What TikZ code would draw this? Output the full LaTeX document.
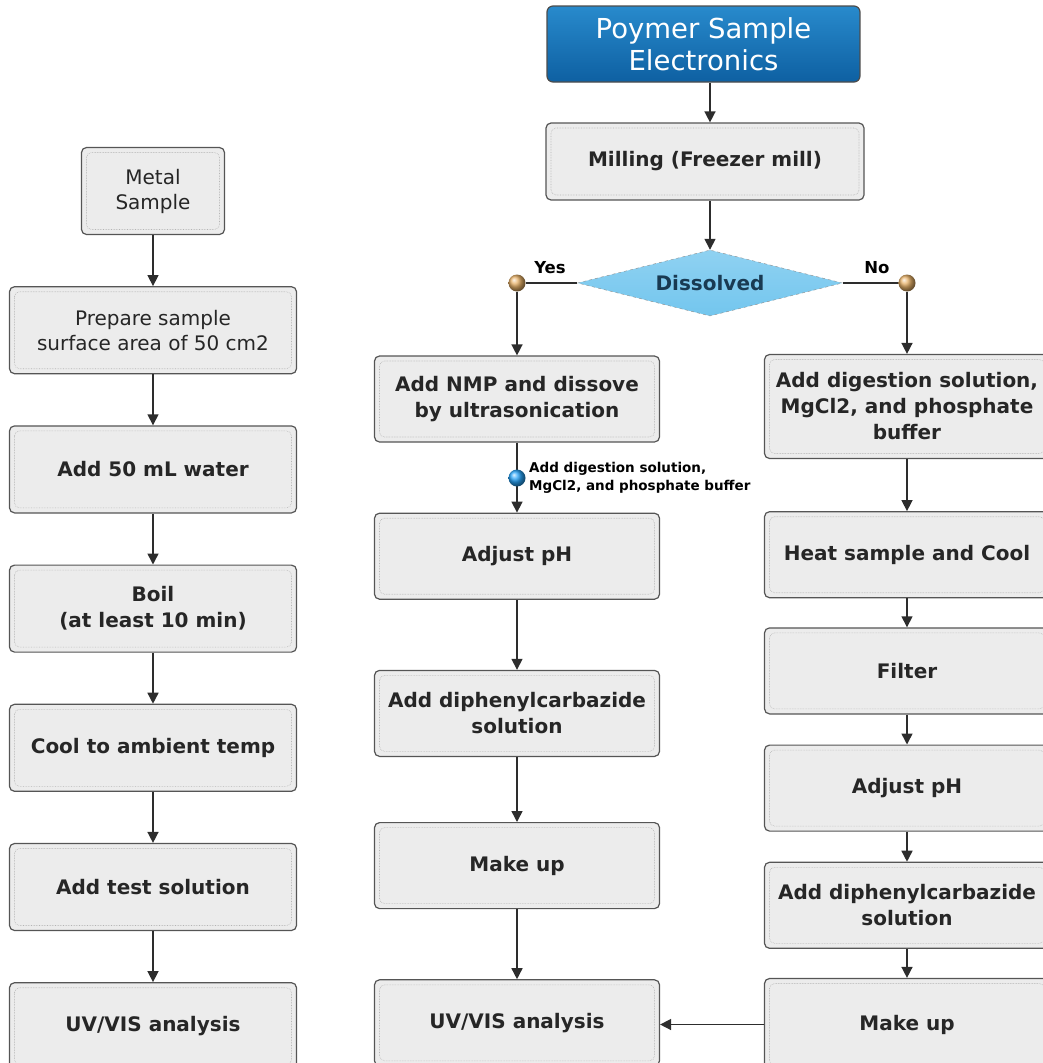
\documentclass[tikz,border=0pt]{standalone}
\usepackage{fontspec}
\setmainfont{DejaVu Sans}
\usepackage{tikz}
\usetikzlibrary{
	positioning,
	arrows.meta,
	shapes.geometric,
	shadings
}
\definecolor{boxfill}{RGB}{236,236,236}
\definecolor{boxline}{RGB}{85,85,85}
\definecolor{boxdots}{RGB}{180,180,180}
\definecolor{lineclr}{RGB}{45,45,45}
\definecolor{topblue}{RGB}{40,138,204}
\definecolor{lowblue}{RGB}{14,96,162}
\definecolor{dmdfill}{RGB}{115,198,238}
\definecolor{dmdtext}{RGB}{25,58,82}
\definecolor{knobtan}{RGB}{232,178,105}
\definecolor{knobblue}{RGB}{40,165,250}

\begin{document}
\begin{tikzpicture}[
				x=1pt, y=-1pt,
				block/.style={
					draw=boxline,
					line width=1.2pt,
					fill=boxfill,
					rounded corners=5pt,
					minimum width=285pt,
					minimum height=86pt,
					inner sep=0pt,
					align=center,
					text=black!85,
					font=\bfseries\fontsize{20}{26}\selectfont,
					path picture={
						\draw[boxdots, densely dotted, line width=0.6pt]
						([shift={(5pt,-5pt)}]path picture bounding box.north west) rectangle
						([shift={(-5pt,5pt)}]path picture bounding box.south east);
					}
				},
				plainblock/.style={
					block,
					font=\fontsize{20}{25}\selectfont
				},
				startblock/.style={
					draw=black!70,
					line width=1.2pt,
					top color=topblue,
					bottom color=lowblue,
					rounded corners=6pt,
					minimum width=313pt,
					minimum height=76pt,
					align=center,
					text=white,
					font=\fontsize{27.5}{32}\selectfont
				},
				decision/.style={
					diamond,
					aspect=4,
					draw=black!45,
					dashed,
					top color=dmdfill!80,
					bottom color=dmdfill,
					minimum width=265pt,
					minimum height=66pt,
					inner sep=0pt,
					text=dmdtext,
					font=\bfseries\fontsize{20}{24}\selectfont
				},
				knob/.style={
					circle,
					shading=ball,
					ball color=knobtan,
					minimum size=17pt,
					inner sep=0pt
				},
				arrow/.style={
					-{Triangle[length=11pt,width=11pt]},
					line width=1.5pt,
					draw=lineclr
				},
				link/.style={
					line width=1.5pt,
					draw=lineclr
				},
				lbl/.style={
					font=\bfseries\fontsize{16.5}{20}\selectfont
				},
				note/.style={
					align=left,
					font=\bfseries\fontsize{13.5}{18}\selectfont
				}
				]
				
				\useasboundingbox (0,0) rectangle (1043,1063);
				\clip (0,0) rectangle (1043,1063);
				
				% metal sample column
				\node[plainblock, minimum width=143pt, minimum height=87pt] (metal) at (153,191) {Metal\\Sample};
				\node[plainblock, minimum width=287pt, minimum height=87pt, below=51pt of metal] (prep) {Prepare sample\\surface area of 50 cm2};
				\node[block, minimum width=287pt, minimum height=87pt, below=51pt of prep] (water) {Add 50 mL water};
				\node[block, minimum width=287pt, minimum height=87pt, below=51pt of water] (boil) {Boil\\(at least 10 min)};
				\node[block, minimum width=287pt, minimum height=87pt, below=51pt of boil] (cool) {Cool to ambient temp};
				\node[block, minimum width=287pt, minimum height=87pt, below=51pt of cool] (test) {Add test solution};
				\node[block, minimum width=287pt, minimum height=87pt, below=51pt of test] (uvleft) {UV/VIS analysis};
				
				% polymer sample
				\node[startblock] (poly) at (703.5,44) {Poymer Sample\\Electronics};
				\node[block, minimum width=318pt, minimum height=77pt] (mill) at (705,161.5) {Milling (Freezer mill)};
				\node[decision] (dis) at (710,283) {Dissolved};
				\node[knob] (yesdot) at (517,283) {};
				\node[knob] (nodot) at (907,283) {};
				\node[lbl] (yeslbl) at (550,268) {Yes};
				\node[lbl] (nolbl) at (877,268) {No};
				
				% dissolved branch
				\node[block] (nmp) at (517,399) {Add NMP and dissove\\by ultrasonication};
				\node[block, below=70pt of nmp] (adjmid) {Adjust pH};
				\node[block, below=70pt of adjmid] (dipmid) {Add diphenylcarbazide\\solution};
				\node[block, below=65pt of dipmid] (mkmid) {Make up};
				\node[block, below=70pt of mkmid] (uvmid) {UV/VIS analysis};
				
				% not dissolved branch
				\node[block, minimum height=104pt] (dig) at (907,406.5) {Add digestion solution,\\MgCl2, and phosphate\\buffer};
				\node[block, below=52pt of dig] (heat) {Heat sample and Cool};
				\node[block, below=29pt of heat] (filt) {Filter};
				\node[block, below=30pt of filt] (adjright) {Adjust pH};
				\node[block, below=30pt of adjright] (dipright) {Add diphenylcarbazide\\solution};
				\node[block, minimum height=92pt, below=29pt of dipright] (mkright) {Make up};
				
				\draw[arrow] (metal) -- (prep);
				\draw[arrow] (prep) -- (water);
				\draw[arrow] (water) -- (boil);
				\draw[arrow] (boil) -- (cool);
				\draw[arrow] (cool) -- (test);
				\draw[arrow] (test) -- (uvleft);
				
				\draw[arrow] (poly.south -| dis.north) -- (mill.north -| dis.north);
				\draw[arrow] (mill.south -| dis.north) -- (dis.north);
				\draw[link] (dis.west) -- (yesdot);
				\draw[link] (dis.east) -- (nodot);
				\draw[arrow] (yesdot) -- (nmp);
				\draw[arrow] (nodot) -- (dig);
				
				\draw[arrow] (nmp) -- (adjmid);
				\node[knob, ball color=knobblue] (middot) at (517,478) {};
				\node[note, right=0pt of middot] (mtext) {Add digestion solution,\\MgCl2, and phosphate buffer};
				\draw[arrow] (adjmid) -- (dipmid);
				\draw[arrow] (dipmid) -- (mkmid);
				\draw[arrow] (mkmid) -- (uvmid);
				
				\draw[arrow] (dig) -- (heat);
				\draw[arrow] (heat) -- (filt);
				\draw[arrow] (filt) -- (adjright);
				\draw[arrow] (adjright) -- (dipright);
				\draw[arrow] (dipright) -- (mkright);
				\draw[arrow] (mkright.west) -- (mkright.west -| uvmid.east);
				
			\end{tikzpicture}
\end{document}
